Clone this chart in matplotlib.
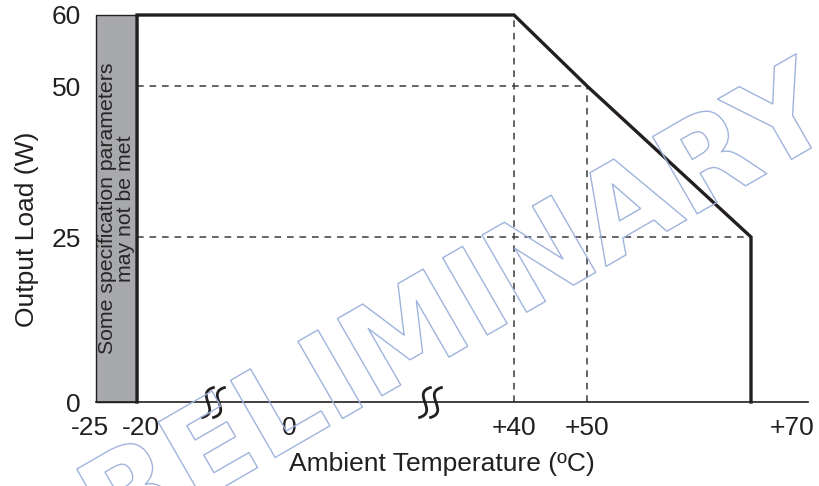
import numpy as np
import matplotlib
matplotlib.use("Agg")
import matplotlib.pyplot as plt
from matplotlib.path import Path
from matplotlib.transforms import ScaledTranslation
import matplotlib.patheffects as pe

# ---------------- data ----------------
x_tick_values = [-25, -20, 0, 40, 50, 70]
x_tick_labels = ["-25", "-20", "0", "+40", "+50", "+70"]
y_tick_values = [0, 25, 50, 60]
y_tick_labels = ["0", "25", "50", "60"]

curve_temp = [-20, -20, 40, 50, 66, 66]
curve_load = [0, 60, 60, 50, 25, 0]

guide_v_temp = [40, 50]
guide_v_load = [60, 50]
guide_h_load = [50, 25]
guide_h_end = [50, 66]
guide_h_start = -20

zone_temp = [-25, -20]
zone_load = [0, 60]
zone_text = "Some specification parameters\nmay not be met"

break_temps = [-10, 25]

# non-linear (broken) axis scale knots
x_knots = [-25, -20, 0, 40, 50, 70, 72]
x_pos = [96, 137, 289, 514, 587, 792, 808]
y_knots = [0, 25, 50, 60]
y_pos = [0, 165, 316, 387]

INK = "#231f20"
DASH = "#4a4a4a"
GRAY = "#a7a9ac"
WM = "#9fb3dc"
FONT = "Liberation Sans"

def xf(v):
    return np.interp(v, x_knots, x_pos)

def xi(p):
    return np.interp(p, x_pos, x_knots)

def yf(v):
    return np.interp(v, y_knots, y_pos)

def yi(p):
    return np.interp(p, y_pos, y_knots)

fig = plt.figure(figsize=(8.19, 4.86), dpi=100)
ax = fig.add_axes([96 / 819, 84 / 486, 712 / 819, 387 / 486])
ax.set_xscale("function", functions=(xf, xi))
ax.set_yscale("function", functions=(yf, yi))
ax.set_xlim(-25, 72)
ax.set_ylim(0, 60)

for s in ["top", "right", "left"]:
    ax.spines[s].set_visible(False)
ax.spines["bottom"].set_color(INK)
ax.spines["bottom"].set_linewidth(1.2)

# shaded zone
ax.fill_between(zone_temp, zone_load[0], zone_load[1], facecolor=GRAY,
                edgecolor=INK, linewidth=1.0, clip_on=False, zorder=1)
ax.text(np.mean(zone_temp), 0.5, zone_text, transform=ax.get_xaxis_transform(),
        rotation=90, ha="center", va="center", multialignment="center",
        linespacing=0.95, fontsize=15.3, family=FONT, color="#262626", zorder=2)

# dashed guides
for t, l in zip(guide_v_temp, guide_v_load):
    ax.plot([t, t], [0, l], color=DASH, lw=1.2, dashes=(4, 3.5), zorder=2)
for l, e in zip(guide_h_load, guide_h_end):
    ax.plot([guide_h_start, e], [l, l], color=DASH, lw=1.2, dashes=(4, 3.5), zorder=2)

# derating curve
ax.plot(curve_temp, curve_load, color=INK, lw=2.4, solid_joinstyle="miter",
        clip_on=False, zorder=3)

# axis break marks
def stroke(dx):
    return [(0.22 + dx, 0.5), (-0.5 + dx, 0.32), (0.5 + dx, -0.32), (-0.22 + dx, -0.5)]
verts = stroke(-0.18) + stroke(0.18)
codes = [Path.MOVETO, Path.CURVE4, Path.CURVE4, Path.CURVE4] * 2
brk = Path(verts, codes)
ax.plot(break_temps, [0] * len(break_temps), linestyle="none", marker=brk,
        markersize=30, markerfacecolor="none", markeredgecolor=INK,
        markeredgewidth=2.0, clip_on=False, zorder=4)

# ticks
ax.set_xticks(x_tick_values)
ax.set_xticklabels(x_tick_labels)
ax.set_yticks(y_tick_values)
ax.set_yticklabels(y_tick_labels)
ax.minorticks_off()
ax.tick_params(axis="both", length=0, labelsize=19, labelcolor=INK)
ax.tick_params(axis="x", pad=10)
ax.tick_params(axis="y", pad=11)
for lab in ax.get_xticklabels() + ax.get_yticklabels():
    lab.set_family(FONT)
# nudge the two crowded labels apart
xl = ax.get_xticklabels()
xl[0].set_transform(xl[0].get_transform() + ScaledTranslation(-6 / 100, 0, fig.dpi_scale_trans))
xl[1].set_transform(xl[1].get_transform() + ScaledTranslation(4 / 100, 0, fig.dpi_scale_trans))

ax.set_xlabel("Ambient Temperature (ºC)", fontsize=19, family=FONT, color=INK)
ax.set_ylabel("Output Load (W)", fontsize=19, family=FONT, color=INK)
ax.xaxis.set_label_coords((442 - 96) / 712, (402 - 452) / 387)
ax.yaxis.set_label_coords((39 - 96) / 712, (402 - 229) / 387)

# watermark
fig.text(437 / 819, 1 - 364 / 486, "PRELIMINARY", rotation=30, rotation_mode="anchor",
         ha="center", va="baseline", fontsize=88, family="DejaVu Sans", fontweight="bold",
         color="none", zorder=10,
         path_effects=[pe.Stroke(linewidth=1.0, foreground=WM)])

fig.savefig("out.png", dpi=100)
